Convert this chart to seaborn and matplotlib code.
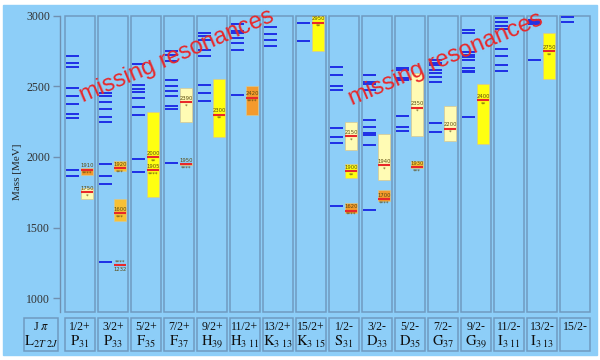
import matplotlib
matplotlib.use('Agg')
import matplotlib.pyplot as plt
from matplotlib.patches import Rectangle
import seaborn as sns
import pandas as pd

# column labels (J^pi and partial wave)
jp_labels = ['1/2+', '3/2+', '5/2+', '7/2+', '9/2+', '11/2+', '13/2+', '15/2+',
             '1/2-', '3/2-', '5/2-', '7/2-', '9/2-', '11/2-', '13/2-', '15/2-']
wave_labels = [r'$\mathrm{P}_{31}$', r'$\mathrm{P}_{33}$', r'$\mathrm{F}_{35}$', r'$\mathrm{F}_{37}$',
               r'$\mathrm{H}_{39}$', r'$\mathrm{H}_{3\ 11}$', r'$\mathrm{K}_{3\ 13}$', r'$\mathrm{K}_{3\ 15}$',
               r'$\mathrm{S}_{31}$', r'$\mathrm{D}_{33}$', r'$\mathrm{D}_{35}$', r'$\mathrm{G}_{37}$',
               r'$\mathrm{G}_{39}$', r'$\mathrm{I}_{3\ 11}$', r'$\mathrm{I}_{3\ 13}$', '']

# quark model predictions (MeV), one list per column
model_masses = [
    [1866, 1905, 2274, 2302, 2377, 2434, 2490, 2639, 2663, 2712],
    [1259, 1809, 1868, 1948, 2248, 2281, 2337, 2391, 2432, 2453],
    [1896, 1984, 2300, 2352, 2356, 2420, 2458, 2483, 2510, 2656],
    [1955, 2338, 2361, 2431, 2467, 2502, 2545, 2676, 2720, 2750],
    [2395, 2455, 2510, 2715, 2755, 2828, 2856, 2875],
    [2439, 2754, 2805, 2840, 2875, 2894, 2940],
    [2786, 2828, 2868, 2922],
    [2823, 2950],
    [1653, 2097, 2144, 2203, 2474, 2502, 2580, 2635],
    [1625, 2085, 2156, 2168, 2215, 2262, 2474, 2517, 2533, 2580],
    [2182, 2210, 2287, 2543, 2562, 2618, 2630],
    [2179, 2240, 2531, 2569, 2597, 2616, 2649, 2667, 2686],
    [2281, 2600, 2612, 2633, 2688, 2710, 2723, 2740, 2880, 2899],
    [2606, 2651, 2717, 2762, 2905, 2930, 2955, 2982],
    [2684, 2942, 2955, 2968],
    [2958, 2993],
]

# observed states
exp_column = [0, 0, 1, 1, 1, 2, 2, 3, 3, 4, 5, 7, 8, 8, 8, 9, 9, 10, 10, 11, 12, 14]
exp_mass = [1750, 1910, 1232, 1600, 1920, 1905, 2000, 1950, 2390, 2300, 2420, 2950,
            1620, 1900, 2150, 1700, 1940, 1930, 2350, 2200, 2400, 2750]
exp_lo = [1705, 1870, 1232, 1550, 1900, 1870, 1720, 1945, 2250, 2140, 2300, 2750,
          1605, 1850, 2050, 1685, 1840, 1920, 2150, 2115, 2095, 2550]
exp_hi = [1780, 1920, 1232, 1700, 1970, 1930, 2320, 1960, 2485, 2550, 2500, 3000,
          1675, 1950, 2245, 1765, 2165, 1970, 2595, 2360, 2515, 2875]
exp_stars = [1, 4, 4, 3, 3, 4, 2, 4, 1, 2, 4, 2, 4, 2, 1, 4, 1, 3, 1, 1, 2, 2]

yticks = [1000, 1500, 2000, 2500, 3000]

bg = '#8DCEF8'
edge = '#6F9AC0'
blue = '#1F2FE6'
red = '#E8282A'
star_color = {1: '#FFFBB4', 2: '#FFFF10', 3: '#F7C035', 4: '#F49A2C'}

sns.set_style('white')
plt.rcParams['font.family'] = ['Liberation Serif', 'DejaVu Serif']
plt.rcParams['mathtext.fontset'] = 'stix'

fig = plt.figure(figsize=(6, 3.6), dpi=100, facecolor='white')
fig.patches.append(Rectangle((3 / 600, 5 / 360), 594 / 600, 350 / 360,
                             transform=fig.transFigure, color=bg, zorder=-10))

ax = fig.add_axes([60 / 600, (360 - 312.4) / 360, 534 / 600, 296.7 / 360])
ax.set_facecolor('none')
ax.set_xlim(-20 / 33, 514 / 33)
ax.set_ylim(900, 3000)

for i in range(len(jp_labels)):
    ax.add_patch(Rectangle((i - 0.455, 900), 0.91, 2100, fc='none', ec=edge, lw=1.1, clip_on=False))

# model lines
model_df = pd.DataFrame([(i, m) for i, ms in enumerate(model_masses) for m in ms], columns=['col', 'mass'])
ax.hlines(model_df['mass'], model_df['col'] - 0.41, model_df['col'] - 0.03, color=blue, lw=1.4, zorder=3)

# experimental boxes
exp_df = pd.DataFrame({'col': exp_column, 'mass': exp_mass, 'lo': exp_lo, 'hi': exp_hi, 'stars': exp_stars})
for r in exp_df.itertuples():
    fc = star_color[r.stars]
    if r.hi > r.lo:
        ax.add_patch(Rectangle((r.col + 0.04, r.lo), 0.36, r.hi - r.lo, fc=fc, ec='#D8C890', lw=0.5, zorder=2))
    ax.hlines(r.mass, r.col + 0.04, r.col + 0.40, color=red, lw=1.5, zorder=4)
    stars = '*' * r.stars
    if r.mass == 1232:
        top, bottom = stars, str(r.mass)
    else:
        top, bottom = str(r.mass), stars
    ax.text(r.col + 0.22, r.mass + 9, top, ha='center', va='bottom', fontsize=3.8,
            color='#5A4A10', family='DejaVu Sans', zorder=5)
    ax.text(r.col + 0.22, r.mass - 9, bottom, ha='center', va='top', fontsize=3.8,
            color='#5A4A10', family='DejaVu Sans', zorder=5)

sns.despine(ax=ax, top=True, right=True, bottom=True)
ax.spines['left'].set_color('#7090B0')
ax.spines['left'].set_linewidth(1.0)
ax.set_xticks([])
ax.set_yticks(yticks)
ax.tick_params(axis='y', direction='out', length=5, width=1, color='#7090B0',
               labelsize=8.5, labelcolor='#333333', pad=2, left=True)
ax.set_ylabel('Mass [MeV]', fontsize=8, color='#222222')
ax.yaxis.set_label_coords(-0.071, 0.475)

# label row
lab = fig.add_axes([20 / 600, (360 - 352) / 360, 574 / 600, 35 / 360])
lab.set_xlim(-60 / 33, 514 / 33)
lab.set_ylim(0, 1)
lab.axis('off')
lab.add_patch(Rectangle((-56 / 33, 0.03), 34 / 33, 0.94, fc='none', ec=edge, lw=1.1))
lab.text(-39 / 33, 0.72, r'J $\pi$', ha='center', va='center', fontsize=9, color='#111111')
lab.text(-39 / 33, 0.28, r'$\mathrm{L}_{2T\ 2J}$', ha='center', va='center', fontsize=10.5, color='#111111')
for i, (jp, wv) in enumerate(zip(jp_labels, wave_labels)):
    lab.add_patch(Rectangle((i - 0.455, 0.03), 0.91, 0.94, fc='none', ec=edge, lw=1.1))
    lab.text(i, 0.72, jp, ha='center', va='center', fontsize=8.5, color='#111111')
    if wv:
        lab.text(i, 0.28, wv, ha='center', va='center', fontsize=10.5, color='#111111')

# annotations
for cx, cy in [(177, 56), (446, 59)]:
    fig.text(cx / 600, 1 - cy / 360, 'missing resonances', rotation=23, rotation_mode='anchor',
             ha='center', va='center', fontsize=17, color=red, family='Liberation Sans', zorder=10)

fig.savefig('out.png', dpi=100, facecolor='white')
